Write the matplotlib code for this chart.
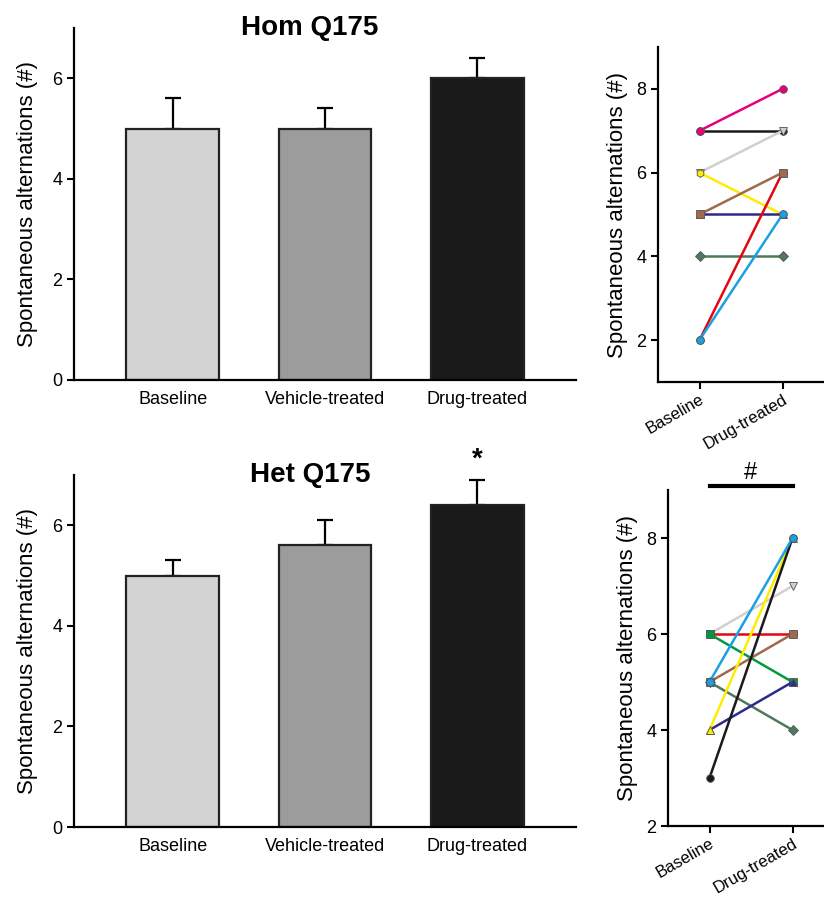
import matplotlib
matplotlib.use("Agg")
from matplotlib import pyplot as plt

plt.rcParams['font.family'] = ['Liberation Sans', 'DejaVu Sans']

# bar chart data
groups = ["Baseline", "Vehicle-treated", "Drug-treated"]
hom_means = [5.0, 5.0, 6.0]
hom_sem = [0.6, 0.4, 0.4]
het_means = [5.0, 5.6, 6.4]
het_sem = [0.3, 0.5, 0.5]

# paired data (baseline -> drug-treated) for each animal, in drawing order
pair_labels = ["Baseline", "Drug-treated"]
hom_base = [7, 6, 6, 5, 4, 2, 5, 7, 2]
hom_drug = [7, 7, 5, 5, 4, 6, 6, 8, 5]
het_base = [6, 6, 6, 5, 5, 4, 4, 3, 5]
het_drug = [7, 6, 5, 6, 4, 5, 8, 8, 8]

# styles for each animal line
hom_colors = ["#1a1a1a", "#d0d0d0", "#ffed00", "#2e2a8c", "#4e7a5c", "#e30613",
              "#a0694b", "#e6007e", "#1ba1e2"]
hom_markers = ["o", "v", "h", "^", "D", "o", "s", "o", "o"]
het_colors = ["#d0d0d0", "#e30613", "#009a3e", "#a0694b", "#4e7a5c", "#2e2a8c",
              "#ffed00", "#1a1a1a", "#1ba1e2"]
het_markers = ["v", "o", "s", "s", "D", "^", "^", "o", "o"]

bar_colors = ["#d3d3d3", "#9c9c9c", "#1a1a1a"]

fig = plt.figure(figsize=(8.24, 8.97), dpi=100)


def bar_panel(rect, means, sem, title):
    ax = fig.add_axes(rect)
    x = range(len(groups))
    ax.bar(x, means, width=0.61, color=bar_colors, edgecolor="#222222", linewidth=1.6,
           zorder=2)
    ax.errorbar(x, means, yerr=[[0] * len(sem), sem], fmt="none", ecolor="black",
                elinewidth=1.6, capsize=6, capthick=1.6, zorder=1)
    ax.set_xlim(-0.65, 2.65)
    ax.set_ylim(0, 7)
    ax.set_yticks([0, 2, 4, 6])
    ax.set_xticks(list(x))
    ax.set_xticklabels(groups, fontsize=13)
    ax.tick_params(axis="x", length=0, pad=8)
    ax.tick_params(axis="y", labelsize=13, width=1.5, length=5)
    for s in ["top", "right"]:
        ax.spines[s].set_visible(False)
    for s in ["left", "bottom"]:
        ax.spines[s].set_linewidth(1.6)
    ax.set_ylabel("Spontaneous alternations (#)", fontsize=16, labelpad=10)
    ax.text(0.47, 1.0, title, transform=ax.transAxes, ha="center", va="center",
            fontsize=20, fontweight="bold")
    return ax


def pair_panel(rect, base, drug, colors, markers, ylim):
    ax = fig.add_axes(rect)
    for b, d, c, m in zip(base, drug, colors, markers):
        ax.plot([0, 1], [b, d], color=c, linewidth=1.8, marker=m, markersize=5.5,
                markerfacecolor=c, markeredgecolor="#555555", markeredgewidth=0.6)
    ax.set_xlim(-0.5, 1.5)
    ax.set_ylim(*ylim)
    ax.set_yticks([2, 4, 6, 8])
    ax.set_xticks([0, 1])
    ax.set_xticklabels(pair_labels, rotation=30, ha="right", rotation_mode="anchor",
                       fontsize=12)
    ax.tick_params(axis="both", labelsize=13, width=1.5, length=5)
    ax.tick_params(axis="x", labelsize=12, pad=2)
    for s in ["top", "right"]:
        ax.spines[s].set_visible(False)
    for s in ["left", "bottom"]:
        ax.spines[s].set_linewidth(1.6)
    ax.set_ylabel("Spontaneous alternations (#)", fontsize=16, labelpad=6)
    return ax


bar_panel([74 / 824, 1 - 380 / 897, 502 / 824, 352 / 897], hom_means, hom_sem, "Hom Q175")
ax_het = bar_panel([74 / 824, 1 - 827 / 897, 502 / 824, 352 / 897], het_means, het_sem,
                   "Het Q175")
ax_het.text(2, 7.3, "*", ha="center", va="center", fontsize=20, fontweight="bold")

pair_panel([658 / 824, 1 - 382 / 897, 166 / 824, 335 / 897],
           hom_base, hom_drug, hom_colors, hom_markers, (1, 9))

ax_p2 = pair_panel([668 / 824, 1 - 826 / 897, 166 / 824, 336 / 897],
                   het_base, het_drug, het_colors, het_markers, (2, 9))
ax_p2.plot([0, 1], [9.08, 9.08], color="black", linewidth=3, clip_on=False)
ax_p2.text(0.5, 9.12, "#", ha="center", va="bottom", fontsize=17)

fig.savefig("out.png", dpi=100)
